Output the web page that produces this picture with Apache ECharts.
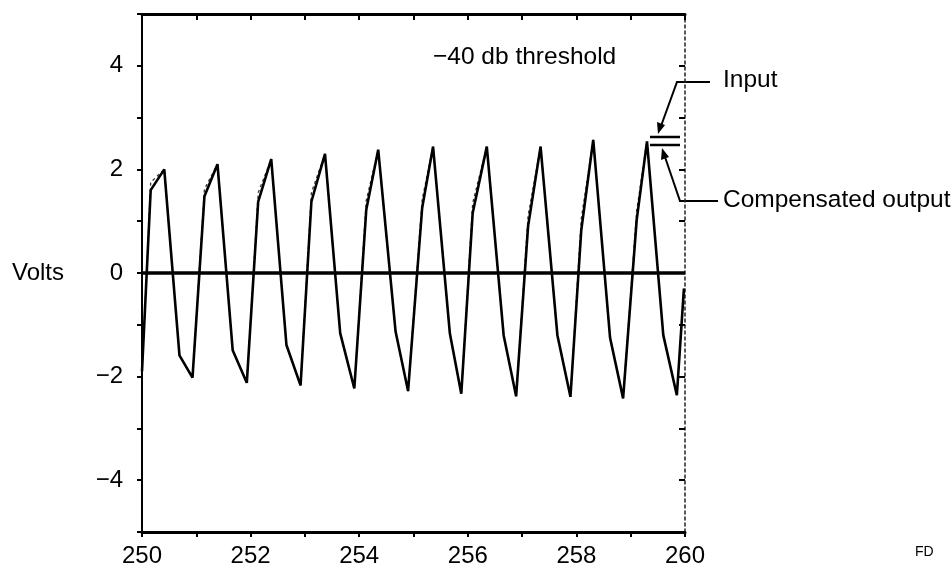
<!DOCTYPE html>
<html>
<head>
<meta charset="utf-8">
<script src="https://cdn.jsdelivr.net/npm/echarts@6/dist/echarts.min.js"></script>
<style>
  html, body { margin: 0; padding: 0; background: #fff; }
  #chart { width: 952px; height: 570px; }
</style>
</head>
<body>
<div id="chart"></div>
<script>
// waveform, one entry per cycle
const riseKneeX = [250.16, 251.15, 252.14, 253.12, 254.13, 255.16, 256.09, 257.11, 258.09, 259.11]
const riseKneeY = [1.6, 1.48, 1.38, 1.38, 1.22, 1.26, 1.16, 0.9, 0.83, 1.02]
const inputKneeY = [1.75, 1.62, 1.55, 1.55, 1.4, 1.42, 1.35, 1.1, 1.05, 1.2]
const peakX = [250.41, 251.39, 252.38, 253.37, 254.35, 255.36, 256.35, 257.34, 258.31, 259.30]
const peakY = [2.0, 2.1, 2.2, 2.3, 2.38, 2.44, 2.44, 2.44, 2.57, 2.54]
const fallKneeX = [250.69, 251.67, 252.66, 253.65, 254.67, 255.67, 256.66, 257.65, 258.62, 259.6]
const fallKneeY = [-1.59, -1.49, -1.39, -1.16, -1.13, -1.17, -1.2, -1.2, -1.25, -1.2]
const troughX = [250.93, 251.93, 252.92, 253.91, 254.90, 255.88, 256.89, 257.89, 258.86, 259.85]
const troughY = [-2.02, -2.12, -2.17, -2.23, -2.28, -2.33, -2.38, -2.39, -2.42, -2.36]
const startPt = [250.0, -1.9]
const endPt = [259.98, -0.3]

const xTicks = [250, 252, 254, 256, 258, 260]
const yTicks = [-4, -2, 0, 2, 4]

function buildWave(kneeY) {
  const pts = [startPt]
  for (let i = 0; i < peakX.length; i++) {
    pts.push([riseKneeX[i], kneeY[i]])
    pts.push([peakX[i], peakY[i]])
    pts.push([fallKneeX[i], fallKneeY[i]])
    pts.push([troughX[i], troughY[i]])
  }
  pts.push(endPt)
  return pts
}

const font = 'Liberation Sans, Arial, sans-serif'
const ink = '#000'

const chart = echarts.init(document.getElementById('chart'))

const baseX = { type: 'value', min: 250, max: 260, interval: 1, splitLine: { show: false } }
const baseY = { type: 'value', min: -5, max: 5, interval: 1, splitLine: { show: false } }

chart.setOption({
  animation: false,
  grid: { left: 142, right: 267, top: 14, bottom: 38 },
  xAxis: [
    { ...baseX, position: 'bottom',
      axisLine: { onZero: false, lineStyle: { color: ink, width: 3 } },
      axisTick: { length: 5, lineStyle: { color: ink, width: 2 } },
      axisLabel: { color: ink, fontFamily: font, fontSize: 24, margin: 12,
        formatter: v => xTicks.includes(v) ? String(v) : '' } },
    { ...baseX, position: 'top',
      axisLine: { onZero: false, lineStyle: { color: ink, width: 3 } },
      axisTick: { inside: true, length: 6, lineStyle: { color: ink, width: 2 } },
      axisLabel: { show: false } }
  ],
  yAxis: [
    { ...baseY, position: 'left',
      name: 'Volts', nameLocation: 'middle', nameRotate: 0, nameGap: 78,
      nameTextStyle: { color: ink, fontFamily: font, fontSize: 24 },
      axisLine: { onZero: false, lineStyle: { color: ink, width: 2 } },
      axisTick: { length: 5, lineStyle: { color: ink, width: 2 } },
      axisLabel: { color: ink, fontFamily: font, fontSize: 24, margin: 19,
        formatter: v => yTicks.includes(v) ? (v < 0 ? '\u2212' + Math.abs(v) : String(v)) : '' } },
    { ...baseY, position: 'right',
      axisLine: { onZero: false, lineStyle: { color: '#222', width: 1.5, type: [3, 3] } },
      axisTick: { inside: true, length: 6, lineStyle: { color: ink, width: 2 } },
      axisLabel: { show: false } }
  ],
  series: [
    { name: 'Input', type: 'line', data: buildWave(inputKneeY), symbol: 'none',
      lineStyle: { color: '#333', width: 1.3, type: [3, 3] }, z: 3 },
    { name: 'Compensated output', type: 'line', data: buildWave(riseKneeY), symbol: 'none',
      lineStyle: { color: ink, width: 2.6 }, z: 4,
      markLine: { silent: true, symbol: 'none', label: { show: false },
        lineStyle: { color: ink, width: 3.5, type: 'solid' },
        data: [{ yAxis: 0 }] } }
  ],
  graphic: [
    { type: 'text', left: 433, top: 45, style: { text: '\u221240 db threshold', fill: ink, font: '24.5px ' + font } },
    { type: 'text', left: 723, top: 68, style: { text: 'Input', fill: ink, font: '24.5px ' + font } },
    { type: 'text', left: 723, top: 188, style: { text: 'Compensated output', fill: ink, font: '24.5px ' + font } },
    { type: 'text', left: 915, top: 545, style: { text: 'FD', fill: ink, font: '14px ' + font } },
    // "=" marker at the right end of the trace
    { type: 'line', shape: { x1: 650, y1: 137, x2: 680, y2: 137 }, style: { stroke: ink, lineWidth: 2.5 } },
    { type: 'line', shape: { x1: 650, y1: 145, x2: 680, y2: 145 }, style: { stroke: ink, lineWidth: 2.5 } },
    // leaders
    { type: 'polyline', shape: { points: [[710, 82], [677, 82], [661, 126]] }, style: { stroke: ink, lineWidth: 2, fill: null } },
    { type: 'polygon', shape: { points: [[658, 134], [657, 122], [665, 125]] }, style: { fill: ink } },
    { type: 'polyline', shape: { points: [[718, 201], [680, 201], [665, 157]] }, style: { stroke: ink, lineWidth: 2, fill: null } },
    { type: 'polygon', shape: { points: [[662, 148], [661, 160], [669, 157]] }, style: { fill: ink } }
  ]
})
</script>
</body>
</html>
